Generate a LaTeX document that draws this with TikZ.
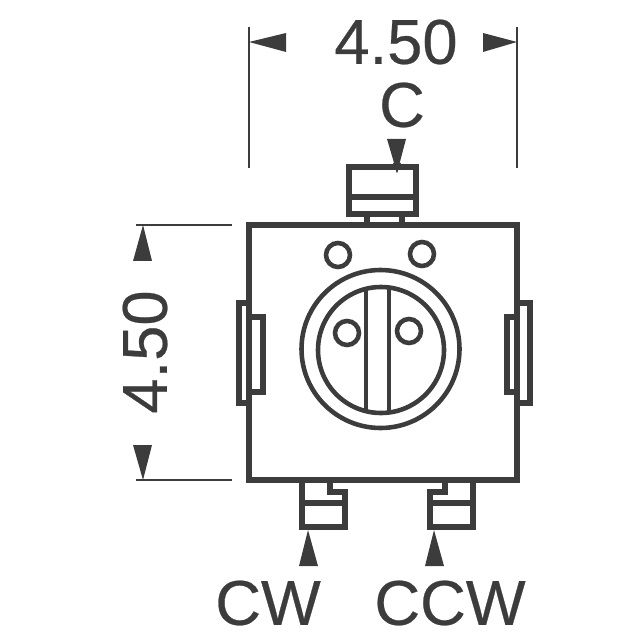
\documentclass[tikz,border=0pt]{standalone}
\usepackage{fontspec}
\setmainfont{Liberation Sans}[FakeBold=0.4]
\usepackage{tikz}
\usetikzlibrary{positioning}
\definecolor{inkgray}{HTML}{3C3C3C}

\begin{document}
\begin{tikzpicture}[x=0.01cm,y=-0.01cm]
    \tikzstyle{every path}=[color=inkgray]
    \tikzstyle{outline}=[draw=inkgray,line width=1.7pt,line join=miter]
    \tikzstyle{thinline}=[draw=inkgray,line width=1.3pt]
    \tikzstyle{leader}=[draw=inkgray,line width=0.75pt]
    \tikzstyle{dimtip}=[fill=inkgray,draw=none]
    \tikzstyle{dimtext}=[text=inkgray,font=\fontsize{18}{20}\selectfont,inner sep=0pt]
    \useasboundingbox (0,0) rectangle (640,640);

    % leaders
    \draw[leader] (249,27) -- (249,168);
    \draw[leader] (517,27) -- (517,168);
    \draw[leader] (136,225) -- (232,225);
    \draw[leader] (136,480) -- (232,480);

    % arrow heads
    \fill[dimtip] (249,42) -- (286,33) -- (286,52) -- cycle;
    \fill[dimtip] (517,42) -- (483,33) -- (483,52) -- cycle;
    \fill[dimtip] (143,225) -- (133,261) -- (152,261) -- cycle;
    \fill[dimtip] (143,480) -- (133,445) -- (152,445) -- cycle;
    \fill[dimtip] (397,173) -- (387,139) -- (406,139) -- cycle;
    \fill[dimtip] (308,530) -- (299,566) -- (318,566) -- cycle;
    \fill[dimtip] (434,530) -- (425,566) -- (444,566) -- cycle;

    % labels
    \node[dimtext] (topsize) at (396,42) {4.50};
    \node[dimtext,rotate=90] (sidesize) at (145,352) {4.50};
    \node[dimtext] (wiper) at (402,105) {C};
    \node[dimtext] (cw) at (268,603) {CW};
    \node[dimtext] (ccw) at (450,603) {CCW};

    % side tabs
    \draw[outline] (249,303) -- (239,303) -- (239,403) -- (249,403);
    \draw[outline] (249,317) -- (263,317) -- (263,392) -- (249,392);
    \draw[outline] (517,317) -- (507,317) -- (507,392) -- (517,392);
    \draw[outline] (517,303) -- (530,303) -- (530,403) -- (517,403);

    % top pin
    \draw[outline] (367,214) -- (367,225);
    \draw[outline] (402,214) -- (402,225);
    \draw[outline] (349,167) rectangle (416,214);
    \draw[outline] (349,197) -- (416,197);
    \fill[dimtip] (393,163) -- (401,163) -- (397,173) -- cycle;

    % bottom pins
    \draw[outline] (302,480) -- (302,527) -- (345,527) -- (345,492) -- (330,492) -- (330,480);
    \draw[outline] (302,503) -- (345,503);
    \draw[outline] (473,480) -- (473,527) -- (430,527) -- (430,492) -- (445,492) -- (445,480);
    \draw[outline] (430,503) -- (473,503);

    % body
    \draw[outline] (249,225) rectangle (517,480);

    % holes
    \draw[thinline] (338,255) circle (12);
    \draw[thinline] (422,254) circle (12);
    \draw[thinline] (347,333) circle (12);
    \draw[thinline] (409,331) circle (12);

    % rotor
    \draw[thinline] (380.5,349) circle (79);
    \draw[thinline] (381,350) circle (63);
    \draw[thinline] (366,288) -- (366,412);
    \draw[thinline] (389,287) -- (389,412);
\end{tikzpicture}
\end{document}
